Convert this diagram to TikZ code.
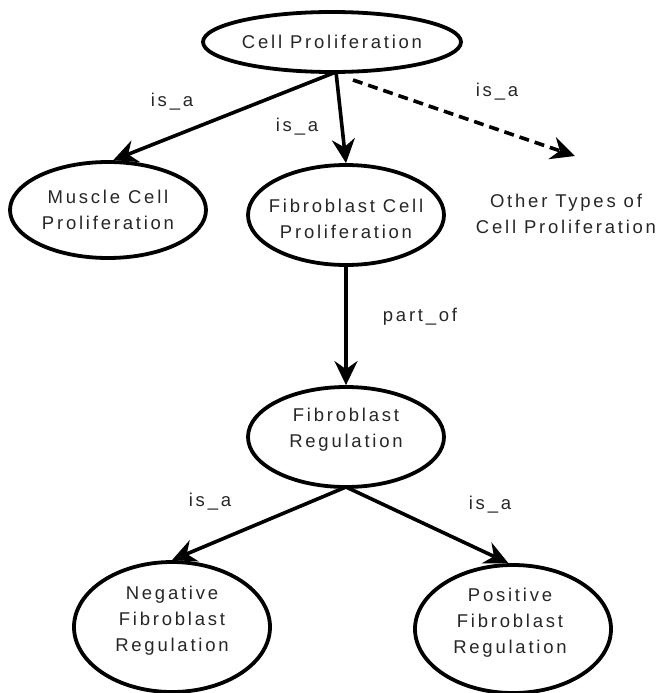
\documentclass[tikz,border=0pt]{standalone}
\usepackage{fontspec}
\setmainfont{Liberation Sans}[LetterSpace=15]
\usetikzlibrary{arrows.meta,shapes.geometric}
\definecolor{txtgray}{HTML}{262626}
\begin{document}
\begin{tikzpicture}[x=1pt,y=-1pt,
  lbl/.style={font=\fontsize{18.5}{26}\selectfont, text=txtgray, align=center, inner sep=0pt},
  oval/.style={ellipse, draw=black, line width=3.8pt, inner sep=0pt, minimum width=196pt, minimum height=100pt},
  conn/.style={line width=3.6pt, -{Stealth[length=24pt,width=23pt,inset=8pt]}},
  dconn/.style={conn, dash pattern=on 10pt off 6pt}
]
\useasboundingbox (0,0) rectangle (659,693);

\node[oval, minimum width=258pt, minimum height=60pt,
      label={[lbl]center:Cell Proliferation}] (cp) at (332,42) {};
\node[oval, minimum height=96pt,
      label={[lbl]center:{Muscle Cell\\Proliferation}}] (mcp) at (108,210) {};
\node[oval,
      label={[lbl,yshift=-4pt]center:{Fibroblast Cell\\Proliferation}}] (fcp) at (346,215) {};
\node[lbl] (other) at (566,214) {Other Types of\\Cell Proliferation};
\node[oval,
      label={[lbl,yshift=7pt]center:{Fibroblast\\Regulation}}] (fr) at (346,437) {};
\node[oval, minimum height=130pt,
      label={[lbl,yshift=6pt]center:{Negative\\Fibroblast\\Regulation}}] (nfr) at (172,627) {};
\node[oval, minimum height=128pt,
      label={[lbl,yshift=6pt,xshift=-3pt]center:{Positive\\Fibroblast\\Regulation}}] (pfr) at (513,629) {};

\coordinate (cpj) at (336,72);
\coordinate (dst) at (353,80);
\coordinate (otip) at (575,156);
\coordinate (frj) at (346,487);

\draw[conn] (cpj) -- (mcp.84);
\draw[conn] (cpj) -- (fcp.north);
\draw[dconn] (dst) -- (otip);
\draw[conn] (fcp.south) -- (fr.north);
\draw[conn] (frj) -- (nfr.north);
\draw[conn] (frj) -- (pfr.94);

\node[lbl] (l1) at (172,102) {is\_a};
\node[lbl] (l2) at (297,127) {is\_a};
\node[lbl] (l3) at (497,92) {is\_a};
\node[lbl] (l4) at (420,317) {part\_of};
\node[lbl] (l5) at (210,502) {is\_a};
\node[lbl] (l6) at (490,505) {is\_a};
\end{tikzpicture}
\end{document}
